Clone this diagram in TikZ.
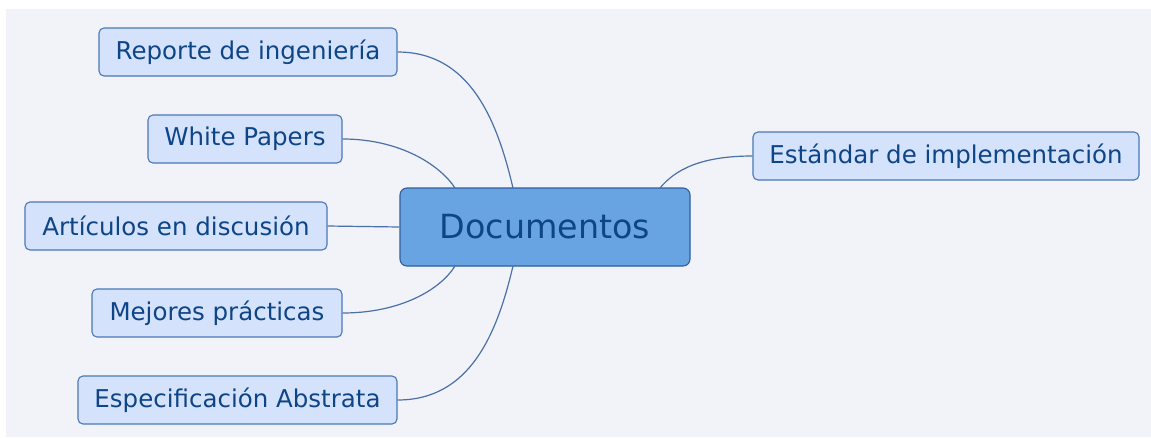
\documentclass[tikz,border=0pt]{standalone}
\usepackage{fontspec}
\setmainfont{DejaVu Sans}
\definecolor{bgc}{HTML}{F2F3F8}
\definecolor{boxfill}{HTML}{D4E2FC}
\definecolor{boxdraw}{HTML}{4A78B8}
\definecolor{txt}{HTML}{0E4586}
\definecolor{cfill}{HTML}{68A4E2}
\definecolor{cdraw}{HTML}{2E5E9C}
\definecolor{conn}{HTML}{4A70A8}
\tikzset{
  branch/.style={draw=boxdraw, fill=boxfill, rounded corners=5pt, line width=1.1pt,
    text=txt, inner sep=0pt, minimum height=48pt, font=\fontsize{24.5}{26}\selectfont},
  central/.style={draw=cdraw, fill=cfill, rounded corners=7pt, line width=1.1pt,
    text=txt, inner sep=0pt, minimum height=78pt, minimum width=290pt, font=\fontsize{33.3}{36}\selectfont},
  link/.style={draw=conn, line width=1.2pt}
}
\begin{document}
\begin{tikzpicture}[x=1pt,y=-1pt]
\useasboundingbox (0,0) rectangle (1151,437);
\fill[bgc] (6,9) rectangle (1151,437);
\node[central] (doc) at (545,227) {Documentos};
\node[branch, minimum width=298pt] (rep) at (248,52) {Reporte de ingeniería};
\node[branch, minimum width=194pt] (wp) at (245,139) {White Papers};
\node[branch, minimum width=302pt] (art) at (176,226) {Artículos en discusión};
\node[branch, minimum width=250pt] (mej) at (217,313) {Mejores prácticas};
\node[branch, minimum width=319pt] (esp) at (237.5,400) {Especificación Abstrata};
\node[branch, minimum width=386pt] (est) at (946,156) {Estándar de implementación};
\coordinate (t1) at (513,188);
\coordinate (t2) at (455,188);
\coordinate (b1) at (513,266);
\coordinate (b2) at (455,266);
\coordinate (tr) at (660,188);
\draw[link] (rep.east) .. controls (470,52) and (497,120) .. (t1);
\draw[link] (wp.east) .. controls (400,139) and (440,165) .. (t2);
\draw[link] (art.east) -- (doc.west);
\draw[link] (mej.east) .. controls (400,313) and (440,290) .. (b2);
\draw[link] (esp.east) .. controls (470,400) and (497,334) .. (b1);
\draw[link] (est.west) .. controls (700,156) and (675,170) .. (tr);
\end{tikzpicture}
\end{document}
